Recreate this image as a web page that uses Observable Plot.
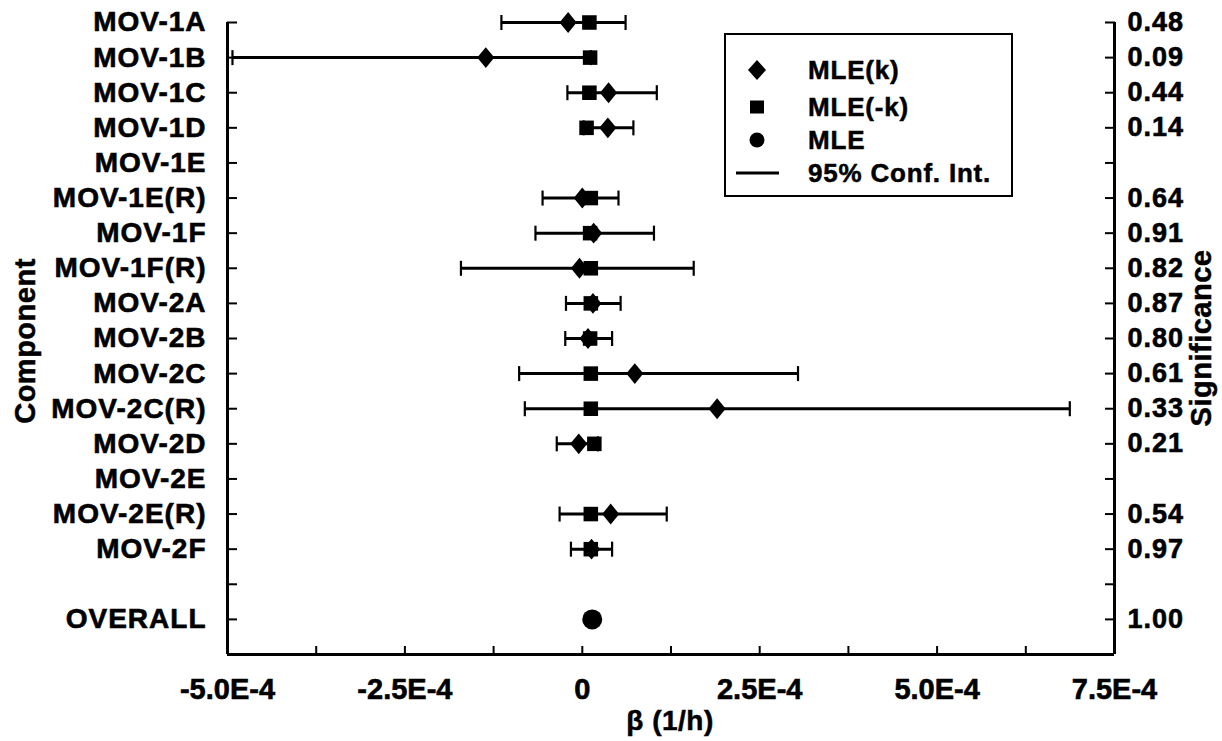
<!DOCTYPE html>
<html>
<head>
<meta charset="utf-8">
<script src="https://cdn.jsdelivr.net/npm/d3@7"></script>
<script src="https://cdn.jsdelivr.net/npm/@observablehq/plot@0.6"></script>
<style>
  html, body { margin: 0; padding: 0; background: #fff; }
  #wrap { position: relative; width: 1222px; height: 741px; overflow: hidden; }
  #chart svg text { stroke: #000; stroke-width: 0.6px; }
  #chart svg g[aria-label="y-axis tick label"] text { letter-spacing: 1px; }
  .ttl { position: absolute; font-family: 'Liberation Sans', Arial, Helvetica, sans-serif; font-weight: bold; color: #000; white-space: nowrap; line-height: 1; letter-spacing: 0.5px; -webkit-text-stroke: 0.5px #000; }
  #legend { position: absolute; left: 724px; top: 33px; width: 289px; height: 164px; border: 2px solid #000; box-sizing: border-box; background: #fff; }
  #legend text { font-family: 'Liberation Sans', Arial, Helvetica, sans-serif; font-weight: bold; font-size: 26px; letter-spacing: 0.8px; stroke: #000; stroke-width: 0.5px; }
</style>
</head>
<body>
<div id="wrap">
  <div id="chart"></div>
  <div class="ttl" style="left:25px;top:341px;font-size:29px;transform:translate(-50%,-50%) rotate(-90deg);">Component</div>
  <div class="ttl" style="left:1201px;top:338px;font-size:29px;transform:translate(-50%,-50%) rotate(-90deg);">Significance</div>
  <div class="ttl" style="left:670px;top:721px;font-size:28px;transform:translate(-50%,-50%);">β (1/h)</div>
  <div id="legend">
    <svg width="285" height="160">
      <path d="M31,25 L40,35 L31,45 L22,35 Z" fill="#000"/>
      <rect x="24" y="65.5" width="14" height="13" fill="#000"/>
      <circle cx="31" cy="105" r="7.5" fill="#000"/>
      <line x1="10" x2="53" y1="138" y2="138" stroke="#000" stroke-width="3"/>
      <text x="82" y="35" dominant-baseline="central">MLE(k)</text>
      <text x="82" y="72" dominant-baseline="central">MLE(-k)</text>
      <text x="82" y="105" dominant-baseline="central">MLE</text>
      <text x="82" y="138" dominant-baseline="central">95% Conf. Int.</text>
    </svg>
  </div>
</div>
<script>
// ---- data ----
const components = ["MOV-1A","MOV-1B","MOV-1C","MOV-1D","MOV-1E","MOV-1E(R)","MOV-1F","MOV-1F(R)","MOV-2A","MOV-2B","MOV-2C","MOV-2C(R)","MOV-2D","MOV-2E","MOV-2E(R)","MOV-2F","","OVERALL"];
const significance = ["0.48","0.09","0.44","0.14","","0.64","0.91","0.82","0.87","0.80","0.61","0.33","0.21","","0.54","0.97","","1.00"];
const ciLow   = [-1.14e-4, -4.93e-4, -0.21e-4, 0.02e-4, null, -0.56e-4, -0.66e-4, -1.71e-4, -0.23e-4, -0.24e-4, -0.89e-4, -0.81e-4, -0.36e-4, null, -0.32e-4, -0.16e-4, null, null];
const ciHigh  = [ 0.61e-4,  0.12e-4,  1.05e-4, 0.72e-4, null,  0.51e-4,  1.01e-4,  1.57e-4,  0.54e-4,  0.42e-4,  3.04e-4,  6.87e-4,  0.22e-4, null,  1.19e-4,  0.42e-4, null, null];
const mleK    = [-0.20e-4, -1.36e-4,  0.37e-4, 0.36e-4, null,  0.00e-4,  0.16e-4, -0.04e-4,  0.15e-4,  0.08e-4,  0.74e-4,  1.90e-4, -0.05e-4, null,  0.40e-4,  0.13e-4, null, null];
const mleNegK = [ 0.10e-4,  0.11e-4,  0.10e-4, 0.06e-4, null,  0.12e-4,  0.11e-4,  0.12e-4,  0.12e-4,  0.11e-4,  0.12e-4,  0.12e-4,  0.17e-4, null,  0.12e-4,  0.12e-4, null, null];
const mle     = [null, null, null, null, null, null, null, null, null, null, null, null, null, null, null, null, null, 0.14e-4];
const xDomain = [-5e-4, 7.5e-4];
const xTicks = [-5e-4, -3.75e-4, -2.5e-4, -1.25e-4, 0, 1.25e-4, 2.5e-4, 3.75e-4, 5e-4, 6.25e-4, 7.5e-4];
const xTickLabels = ["-5.0E-4", "", "-2.5E-4", "", "0", "", "2.5E-4", "", "5.0E-4", "", "7.5E-4"];

// ---- build table ----
const rows = components.map((name, i) => ({
  i, name, sig: significance[i], lo: ciLow[i], hi: ciHigh[i], k: mleK[i], nk: mleNegK[i], m: mle[i]
}));
const ci = rows.filter(d => d.lo != null && d.hi != null);
const kRows = rows.filter(d => d.k != null);
const nkRows = rows.filter(d => d.nk != null);
const mRows = rows.filter(d => d.m != null);
const rowIdx = rows.map(d => d.i);
const xLab = new Map(xTicks.map((v, j) => [v, xTickLabels[j]]));

const diamondSym = {
  draw(ctx, size) {
    const r = Math.sqrt(size / Math.PI);
    ctx.moveTo(0, -1.1 * r); ctx.lineTo(0.9 * r, 0); ctx.lineTo(0, 1.1 * r); ctx.lineTo(-0.9 * r, 0); ctx.closePath();
  }
};
const capSym = {
  draw(ctx, size) {
    const r = Math.sqrt(size / Math.PI);
    ctx.moveTo(0, -r); ctx.lineTo(0, r);
  }
};

const chart = Plot.plot({
  width: 1222,
  height: 741,
  marginLeft: 227,
  marginRight: 108,
  marginTop: 22,
  marginBottom: 87,
  x: {domain: xDomain, label: null},
  y: {domain: [components.length, 0], label: null},
  style: {
    fontFamily: "'Liberation Sans', Arial, Helvetica, sans-serif",
    fontWeight: "bold",
    fontSize: "28px",
    color: "#000",
    background: "#fff",
    overflow: "visible"
  },
  marks: [
    Plot.ruleX(xDomain, {stroke: "#000", strokeWidth: 3}),
    Plot.ruleY([components.length], {stroke: "#000", strokeWidth: 3}),
    Plot.axisY({anchor: "left", ticks: rowIdx, tickFormat: i => components[i], tickSize: -10, tickPadding: 31, strokeWidth: 2, fontSize: 28, label: null}),
    Plot.axisY({anchor: "right", ticks: rowIdx, tickFormat: i => significance[i], tickSize: -10, tickPadding: 23, strokeWidth: 2, fontSize: 27, label: null}),
    Plot.axisX({anchor: "bottom", ticks: xTicks, tickFormat: v => xLab.get(v) ?? "", tickSize: -8, tickPadding: 32, strokeWidth: 2, fontSize: 29, label: null}),
    Plot.ruleY(ci, {y: "i", x1: "lo", x2: "hi", stroke: "#000", strokeWidth: 3}),
    Plot.dot(ci, {x: "lo", y: "i", symbol: capSym, r: 7.5, stroke: "#000", fill: "none", strokeWidth: 2.2}),
    Plot.dot(ci, {x: "hi", y: "i", symbol: capSym, r: 7.5, stroke: "#000", fill: "none", strokeWidth: 2.2}),
    Plot.dot(nkRows, {x: "nk", y: "i", symbol: "square", r: 8.2, fill: "#000", stroke: "none"}),
    Plot.dot(kRows, {x: "k", y: "i", symbol: diamondSym, r: 9.5, fill: "#000", stroke: "none"}),
    Plot.dot(mRows, {x: "m", y: "i", r: 10, fill: "#000", stroke: "none"})
  ]
});
document.getElementById("chart").appendChild(chart);
</script>
</body>
</html>
